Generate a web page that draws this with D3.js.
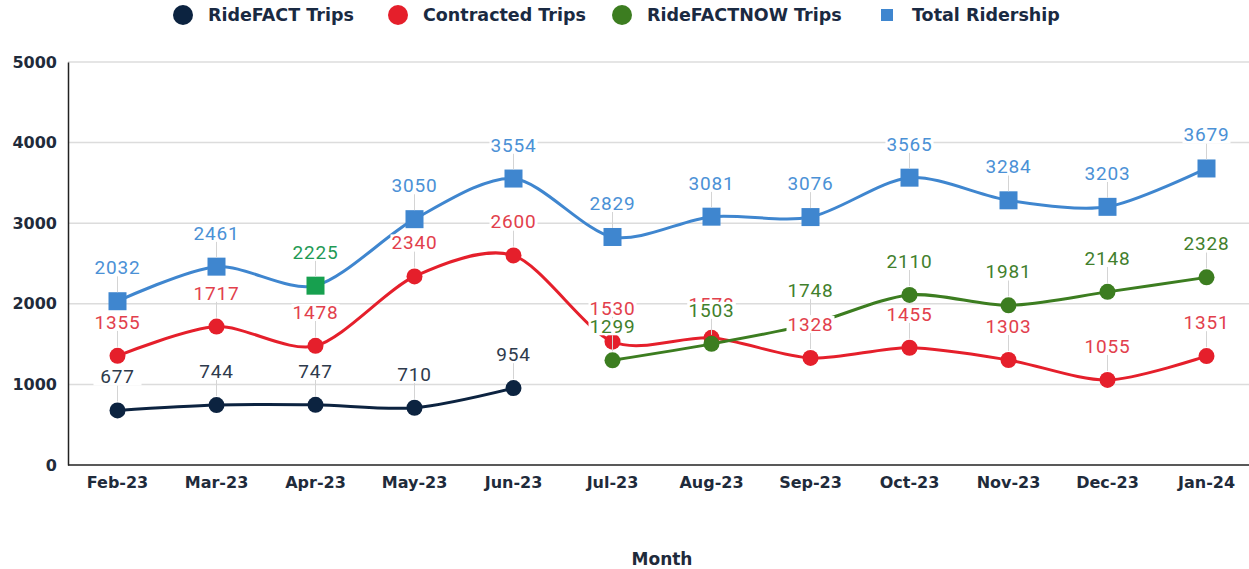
<!DOCTYPE html>
<html>
<head>
<meta charset="utf-8">
<script src="https://cdn.jsdelivr.net/npm/d3@7"></script>
<style>
  body { margin: 0; background: white; }
  svg { display: block; }
</style>
</head>
<body>
<div id="container"></div>
<script>
let w = 1249;
let h = 569;

// DATA
let months = ["Feb-23","Mar-23","Apr-23","May-23","Jun-23","Jul-23","Aug-23","Sep-23","Oct-23","Nov-23","Dec-23","Jan-24"];
let rideFact = [677, 744, 747, 710, 954, null, null, null, null, null, null, null];
let contracted = [1355, 1717, 1478, 2340, 2600, 1530, 1578, 1328, 1455, 1303, 1055, 1351];
let rideFactNow = [null, null, null, null, null, 1299, 1503, 1748, 2110, 1981, 2148, 2328];
let totalRidership = [2032, 2461, 2225, 3050, 3554, 2829, 3081, 3076, 3565, 3284, 3203, 3679];
let yTicks = [0, 1000, 2000, 3000, 4000, 5000];
let highlightMonth = "Apr-23";

let series = [
  {name: "RideFACT Trips", values: rideFact, color: "#0c2340", label: "#2e3b4c", shape: "circle"},
  {name: "Contracted Trips", values: contracted, color: "#e51f2b", label: "#e2404c", shape: "circle"},
  {name: "RideFACTNOW Trips", values: rideFactNow, color: "#3c7d20", label: "#42802c", shape: "circle"},
  {name: "Total Ridership", values: totalRidership, color: "#3f86cf", label: "#4b91d6", shape: "square"}
];

let plotL = 68, plotR = 1256, plotT = 62, plotB = 465;
let boldFont = "'DejaVu Sans', Verdana, sans-serif";

let viz = d3.select("#container").append("svg")
    .attr("width", w)
    .attr("height", h)
    .style("background-color", "white")
;

let xScale = d3.scaleBand().domain(months).range([plotL, plotR]);
let xPos = function(m){ return xScale(m) + xScale.bandwidth()/2; };
let yScale = d3.scaleLinear().domain([0, 5000]).range([plotB, plotT]);

// GRID
viz.selectAll(".grid").data(yTicks.filter(function(d){ return d > 0; })).enter()
  .append("line")
    .attr("class", "grid")
    .attr("x1", plotL)
    .attr("x2", w)
    .attr("y1", function(d){ return yScale(d); })
    .attr("y2", function(d){ return yScale(d); })
    .attr("stroke", "#dcdcdc")
    .attr("stroke-width", 1.5)
;

// AXES
let yAxis = d3.axisLeft(yScale).tickValues(yTicks).tickFormat(d3.format("d")).tickSize(0).tickPadding(11);
let yG = viz.append("g").attr("transform", "translate(" + plotL + ",0)").call(yAxis);
yG.select(".domain").attr("stroke", "#222").attr("stroke-width", 1.5);
yG.selectAll("text")
    .style("font-family", boldFont)
    .style("font-weight", "bold")
    .style("font-size", "16px")
    .attr("fill", "#1f2b3b")
;

let xAxis = d3.axisBottom(xScale).tickSize(0).tickPadding(12);
let xG = viz.append("g").attr("transform", "translate(0," + plotB + ")").call(xAxis);
xG.select(".domain").attr("d", "M" + plotL + ",0H" + w).attr("stroke", "#222").attr("stroke-width", 1.5);
xG.selectAll("text")
    .style("font-family", boldFont)
    .style("font-weight", "bold")
    .style("font-size", "16px")
    .attr("fill", "#1f2b3b")
;

viz.append("text")
    .attr("x", 662)
    .attr("y", 565)
    .attr("text-anchor", "middle")
    .style("font-family", boldFont)
    .style("font-weight", "bold")
    .style("font-size", "17px")
    .attr("fill", "#1f2b3b")
    .text("Month")
;

// LINES
let lineMaker = d3.line()
    .defined(function(d){ return d.v != null; })
    .x(function(d){ return xPos(d.m); })
    .y(function(d){ return yScale(d.v); })
    .curve(d3.curveCardinal.tension(0.15))
;

series.forEach(function(s){
  let pts = months.map(function(m, i){ return {m: m, v: s.values[i]}; }).filter(function(d){ return d.v != null; });
  s.pts = pts;
  viz.append("path")
      .datum(pts)
      .attr("d", lineMaker)
      .attr("fill", "none")
      .attr("stroke", s.color)
      .attr("stroke-width", 3)
  ;
});

// MARKERS
series.forEach(function(s){
  if (s.shape == "circle") {
    viz.selectAll(null).data(s.pts).enter()
      .append("circle")
        .attr("cx", function(d){ return xPos(d.m); })
        .attr("cy", function(d){ return yScale(d.v); })
        .attr("r", 8)
        .attr("fill", s.color)
    ;
  } else {
    viz.selectAll(null).data(s.pts).enter()
      .append("rect")
        .attr("x", function(d){ return xPos(d.m) - 9; })
        .attr("y", function(d){ return yScale(d.v) - 9; })
        .attr("width", 18)
        .attr("height", 18)
        .attr("fill", function(d){ return d.m == highlightMonth ? "#17a04f" : s.color; })
    ;
  }
});

// DATA LABELS (leader line + white box + value)
series.forEach(function(s){
  let g = viz.selectAll(null).data(s.pts).enter().append("g");
  g.append("line")
      .attr("x1", function(d){ return xPos(d.m); })
      .attr("x2", function(d){ return xPos(d.m); })
      .attr("y1", function(d){ return yScale(d.v) - 9; })
      .attr("y2", function(d){ return yScale(d.v) - 25; })
      .attr("stroke", "#d4d4d4")
      .attr("stroke-width", 1)
  ;
  g.append("rect")
      .attr("x", function(d){ return xPos(d.m) - 24; })
      .attr("y", function(d){ return yScale(d.v) - 42; })
      .attr("width", 48)
      .attr("height", 17)
      .attr("fill", "white")
  ;
  g.append("text")
      .attr("x", function(d){ return xPos(d.m); })
      .attr("y", function(d){ return yScale(d.v) - 27; })
      .attr("text-anchor", "middle")
      .style("font-family", "Roboto, sans-serif")
      .style("font-size", "19px")
      .style("letter-spacing", "0.8px")
      .attr("fill", function(d){ return (s.shape == "square" && d.m == highlightMonth) ? "#1f9a55" : s.label; })
      .text(function(d){ return d.v; })
  ;
});

// LEGEND
let legendX = [183, 398, 622, 887];
series.forEach(function(s, i){
  let lg = viz.append("g").attr("transform", "translate(" + legendX[i] + ",15)");
  if (s.shape == "circle") {
    lg.append("circle").attr("r", 10).attr("fill", s.color);
  } else {
    lg.append("rect").attr("x", -6).attr("y", -6).attr("width", 12).attr("height", 12).attr("fill", s.color);
  }
  lg.append("text")
      .attr("x", 25)
      .attr("y", 6)
      .style("font-family", boldFont)
      .style("font-weight", "bold")
      .style("font-size", "17.5px")
      .attr("fill", "#1a2a42")
      .text(s.name)
  ;
});
</script>
</body>
</html>
